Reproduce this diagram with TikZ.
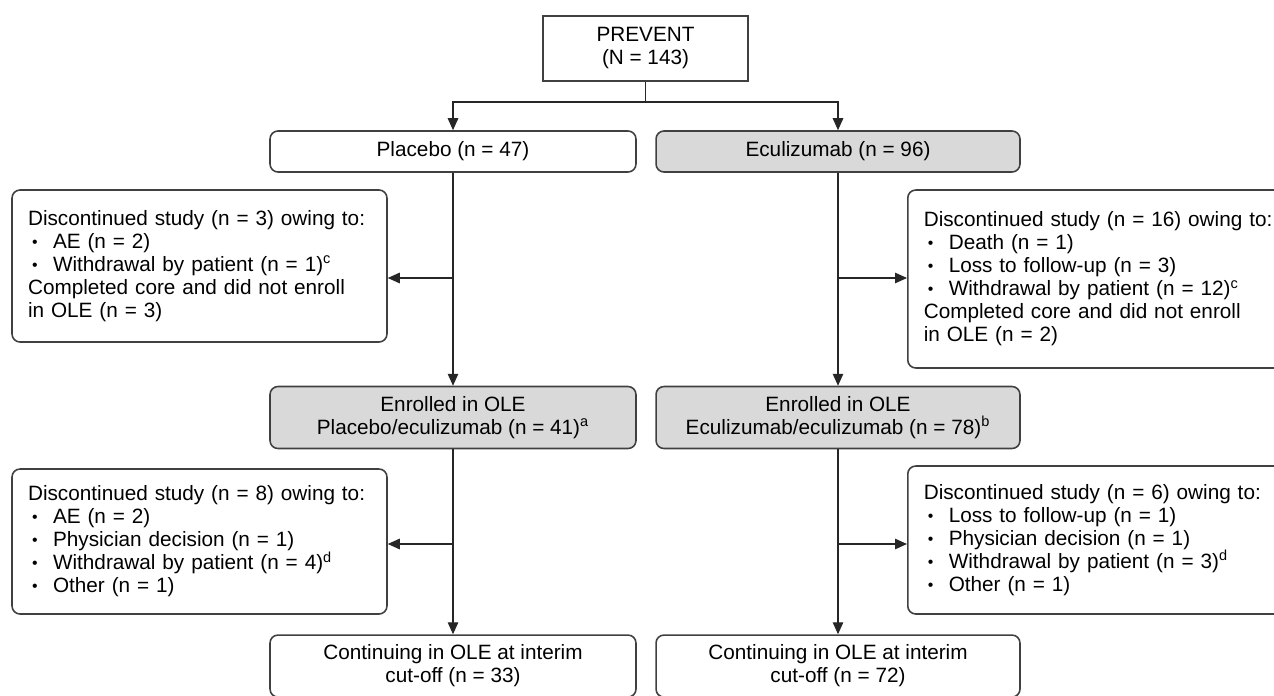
\documentclass[tikz,border=0pt]{standalone}
\usepackage{fontspec}
\setmainfont{Liberation Sans}
\usetikzlibrary{arrows.meta, positioning, calc}
\definecolor{boxgray}{RGB}{217,217,217}
\definecolor{edgegray}{RGB}{64,64,64}
\newcommand{\itm}{\hspace*{0.8mm}\makebox[0.42cm][l]{\raisebox{0.1ex}{\small\textbullet}}}

\begin{document}
\begin{tikzpicture}[
    x=0.02cm, y=-0.02cm,
    node distance=0.4cm and 0.4cm,
    box/.style={rectangle, rounded corners=4.5pt, draw=edgegray, line width=0.9pt, align=center, inner sep=2pt, font=\fontsize{11.8}{13.1}\selectfont, minimum width=7.32cm},
    greybox/.style={box, fill=boxgray},
    sidebox/.style={box, align=left, minimum width=0pt, text width=#1, inner xsep=0.32cm},
    arr/.style={-{Triangle[length=2.4mm, width=2.1mm]}, line width=0.7pt, draw=black!85},
    link/.style={line width=0.7pt, draw=black!85},
]
    \clip (0,0) rectangle (1274,696);

    % Top
    \node[box, rounded corners=0pt, minimum width=4.1cm, minimum height=1.3cm] (prevent) at (645.5,48.5) {PREVENT\\(N = 143)};

    % Arms
    \node[box, minimum height=0.82cm] (placebo) at (453,151.5) {Placebo (n = 47)};
    \node[greybox, minimum width=7.28cm, minimum height=0.82cm] (ecu) at (838,151.5) {Eculizumab (n = 96)};

    % Core discontinuations
    \node[sidebox=6.86cm, minimum height=3.04cm] (discL1) at (199.5,266) {
        Discontinued study (n = 3) owing to:\\
        \itm AE (n = 2)\\
        \itm Withdrawal by patient (n = 1)\textsuperscript{c}\\
        Completed core and did not enroll\\
        in OLE (n = 3)
    };
    \node[sidebox=7.5cm, minimum height=3.56cm, anchor=west] (discR1) at (907,279) {
        Discontinued study (n = 16) owing to:\\
        \itm Death (n = 1)\\
        \itm Loss to follow-up (n = 3)\\
        \itm Withdrawal by patient (n = 12)\textsuperscript{c}\\
        Completed core and did not enroll\\
        in OLE (n = 2)
    };

    % OLE
    \node[greybox, minimum height=1.24cm, below=4.26cm of placebo] (enrolL) {Enrolled in OLE\\Placebo/eculizumab (n = 41)\textsuperscript{a}};
    \node[greybox, minimum width=7.28cm, minimum height=1.24cm, below=4.26cm of ecu] (enrolR) {Enrolled in OLE\\Eculizumab/eculizumab (n = 78)\textsuperscript{b}};

    % OLE discontinuations
    \node[sidebox=6.86cm, minimum height=2.9cm] (discL2) at (199.5,541.5) {
        Discontinued study (n = 8) owing to:\\
        \itm AE (n = 2)\\
        \itm Physician decision (n = 1)\\
        \itm Withdrawal by patient (n = 4)\textsuperscript{d}\\
        \itm Other (n = 1)
    };
    \node[sidebox=7.5cm, minimum height=2.96cm, anchor=west] (discR2) at (907,540) {
        Discontinued study (n = 6) owing to:\\
        \itm Loss to follow-up (n = 1)\\
        \itm Physician decision (n = 1)\\
        \itm Withdrawal by patient (n = 3)\textsuperscript{d}\\
        \itm Other (n = 1)
    };

    % Interim cut-off
    \node[box, minimum height=1.24cm, below=3.7cm of enrolL] (contL) {Continuing in OLE at interim\\cut-off (n = 33)};
    \node[box, minimum width=7.28cm, minimum height=1.24cm, below=3.7cm of enrolR] (contR) {Continuing in OLE at interim\\cut-off (n = 72)};

    % Arrows
    \coordinate (split) at (645.5,102);
    \draw[link] (prevent) -- (split);
    \draw[arr] (split) -| (placebo.north);
    \draw[arr] (split) -| (ecu.north);

    \draw[arr] (placebo) -- (enrolL);
    \draw[arr] (ecu) -- (enrolR);
    \draw[arr] (enrolL) -- (contL);
    \draw[arr] (enrolR) -- (contR);

    % Side branches
    \coordinate (tapL1) at (453,278);
    \coordinate (tapR1) at (838,278);
    \coordinate (tapL2) at (453,544);
    \coordinate (tapR2) at (838,544);
    \draw[arr] (tapL1) -- (tapL1 -| discL1.east);
    \draw[arr] (tapR1) -- (tapR1 -| discR1.west);
    \draw[arr] (tapL2) -- (tapL2 -| discL2.east);
    \draw[arr] (tapR2) -- (tapR2 -| discR2.west);

\end{tikzpicture}
\end{document}
